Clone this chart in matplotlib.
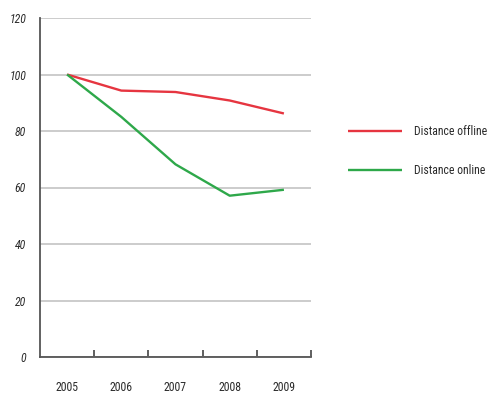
import matplotlib
matplotlib.use("Agg")
import matplotlib.pyplot as plt
from matplotlib import font_manager

years = ["2005", "2006", "2007", "2008", "2009"]
offline = [100, 94.3, 93.8, 90.8, 86.2]
online = [100, 85.0, 68.2, 57.1, 59.2]
yticks = [0, 20, 40, 60, 80, 100, 120]

names = {f.name for f in font_manager.fontManager.ttflist}
fam = "Roboto Condensed" if "Roboto Condensed" in names else "DejaVu Sans"
plt.rcParams['font.family'] = [fam, 'DejaVu Sans']

fig = plt.figure(figsize=(4.87, 3.95), dpi=100)
ax = fig.add_axes([40/487, 1-357/395, 271/487, 339/395])

x = list(range(len(years)))
ax.plot(x, offline, color="#e63540", lw=1.7, label="Distance offline", solid_capstyle='butt')
ax.plot(x, online, color="#2ea84a", lw=1.7, label="Distance online", solid_capstyle='butt')

ax.set_xlim(-0.5, len(years)-0.5)
ax.set_ylim(0, 120)
ax.set_yticks(yticks)
ax.set_yticklabels([str(v) for v in yticks], fontsize=8.5, color="#2a2a2a", style='italic')
ax.set_xticks(x)
ax.set_xticklabels(years, fontsize=8.5, color="#2a2a2a")
ax.tick_params(axis='x', which='major', length=0, pad=17)
ax.tick_params(axis='y', which='major', length=0, pad=10)
ax.set_xticks([i + 0.5 for i in x], minor=True)
ax.tick_params(axis='x', which='minor', direction='in', length=5, width=1.2, color="#444444")

ax.grid(axis='y', color="#c8c8c8", lw=1.3)
ax.set_axisbelow(True)
for s in ['top', 'right']:
    ax.spines[s].set_visible(False)
for s in ['left', 'bottom']:
    ax.spines[s].set_color("#555555")
    ax.spines[s].set_linewidth(1.3)

ax.legend(loc='upper left', bbox_to_anchor=(1.135, 0.683), frameon=False,
          fontsize=8.5, handlelength=4.6, labelspacing=2.2, handletextpad=1.0,
          borderaxespad=0, borderpad=0, labelcolor="#2a2a2a")

fig.savefig("out.png", dpi=100)
